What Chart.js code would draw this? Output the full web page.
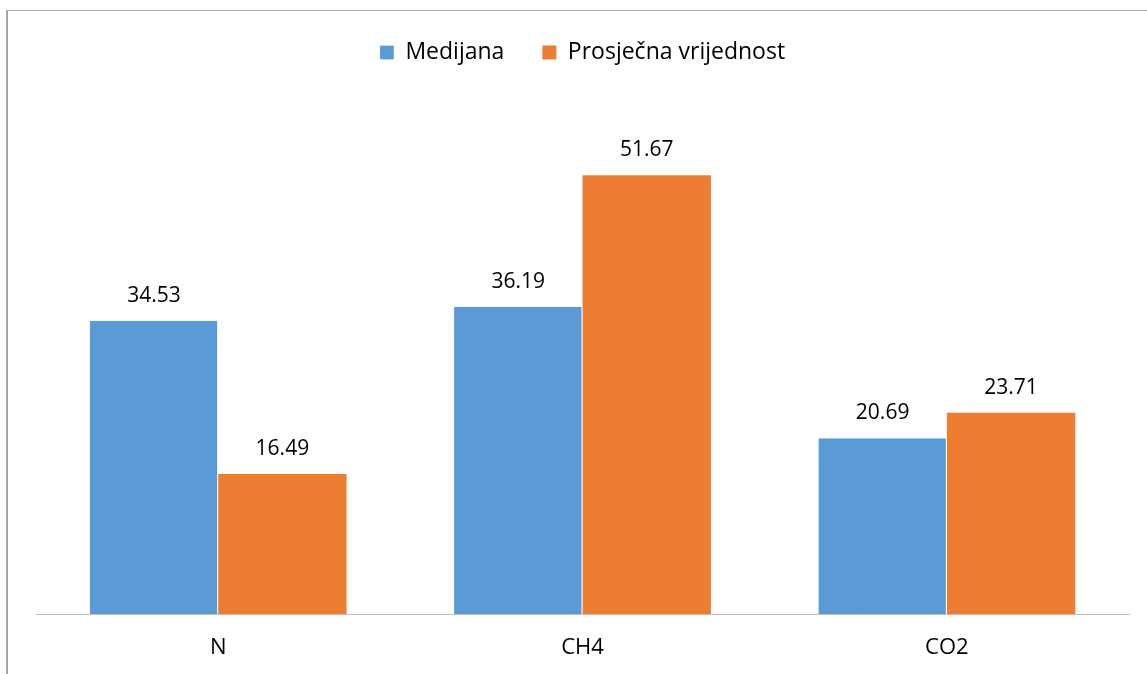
<!DOCTYPE html>
<html>
<head>
<meta charset="utf-8">
<script src="https://cdn.jsdelivr.net/npm/chart.js@4/dist/chart.umd.min.js"></script>
<style>
  body { margin: 0; background: #fff; }
  .wrap { position: relative; width: 1147px; height: 674px; }
  .frame {
    position: absolute; left: 6px; top: 10px; right: 0; bottom: 0;
    border-top: 1px solid #a6a6a6; border-left: 2px solid #a6a6a6;
    pointer-events: none;
  }
</style>
</head>
<body>
<div class="wrap">
  <canvas id="bar-chart" width="1147" height="674"></canvas>
  <div class="frame"></div>
</div>
<script>
"use strict";

const categories = ["N", "CH4", "CO2"];
const medianValues = [34.53, 36.19, 20.69];
const averageValues = [16.49, 51.67, 23.71];
const seriesNames = ["Medijana", "Prosječna vrijednost"];

const fontName = "'Open Sans', sans-serif";

// writes the value above every bar
const valueLabels = {
  id: "valueLabels",
  afterDatasetsDraw(chart) {
    const ctx = chart.ctx;
    ctx.save();
    ctx.font = "21px " + fontName;
    ctx.fillStyle = "#000";
    ctx.textAlign = "center";
    ctx.textBaseline = "alphabetic";
    chart.data.datasets.forEach((ds, i) => {
      chart.getDatasetMeta(i).data.forEach((bar, j) => {
        ctx.fillText(ds.data[j].toFixed(2), bar.x, bar.y - 19);
      });
    });
    ctx.restore();
  },
};

function makeChart() {
  const ctx = document.querySelector("#bar-chart").getContext("2d");
  const configuration = {
    type: "bar",
    data: {
      labels: categories,
      datasets: [
        {
          label: seriesNames[0],
          data: medianValues,
          backgroundColor: "#5b9bd5",
          borderColor: "#ffffff",
          borderWidth: { left: 0, right: 1, top: 0, bottom: 0 },
        },
        {
          label: seriesNames[1],
          data: averageValues,
          backgroundColor: "#ed7d31",
          borderWidth: 0,
        },
      ],
    },
    options: {
      responsive: false,
      animation: false,
      categoryPercentage: 0.705,
      barPercentage: 1,
      layout: {
        padding: { left: 36, right: 18, top: 3, bottom: 0 },
      },
      plugins: {
        legend: {
          display: true,
          position: "top",
          labels: {
            boxWidth: 14,
            boxHeight: 14,
            padding: 38,
            color: "#000",
            font: { family: fontName, size: 23 },
          },
        },
        tooltip: { enabled: false },
      },
      scales: {
        x: {
          grid: { display: false, drawTicks: false },
          border: { display: true, color: "#bfbfbf", width: 1 },
          ticks: {
            color: "#000",
            padding: 21,
            font: { family: fontName, size: 22 },
          },
          afterFit(scale) {
            scale.height = 60;
          },
        },
        y: {
          display: false,
          min: 0,
          max: 63.6,
        },
      },
    },
    plugins: [valueLabels],
  };
  return new Chart(ctx, configuration);
}

makeChart();
</script>
</body>
</html>
